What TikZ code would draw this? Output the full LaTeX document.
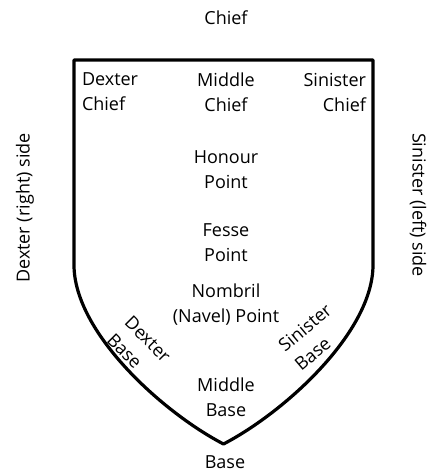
\documentclass[tikz,border=0pt]{standalone}
\usepackage{fontspec}
\setmainfont{Open Sans}
\begin{document}
\begin{tikzpicture}[x=1pt,y=1pt,
  lbl/.style={font=\fontsize{18}{25}\selectfont, inner sep=0pt, outer sep=0pt},
  shieldline/.style={line width=3.2pt, line join=round}]
\useasboundingbox (0,0) rectangle (435,-474);
% shield
\coordinate (tl) at (74,-60);
\coordinate (tr) at (373,-60);
\coordinate (ls) at (74,-265);
\coordinate (rs) at (373,-265);
\coordinate (tip) at (223.5,-444);
\draw[shieldline] (ls) -- (tl) -- (tr) -- (rs)
  .. controls (373,-332) and (285,-412) .. (tip)
  .. controls (162,-412) and (74,-332) .. (ls) -- cycle;
% labels
\node[lbl] (chief) at (226,-18) {Chief};
\node[lbl, anchor=west, align=left] (dexchief) at (82,-92) {Dexter\\Chief};
\node[lbl, align=center] (midchief) at (226,-92) {Middle\\Chief};
\node[lbl, anchor=east, align=right] (sinchief) at (366,-92) {Sinister\\Chief};
\node[lbl, align=center] (honour) at (226,-170) {Honour\\Point};
\node[lbl, align=center] (fesse) at (226,-243) {Fesse\\Point};
\node[lbl, align=center] (nombril) at (226,-305) {Nombril\\(Navel) Point};
\node[lbl, align=center] (midbase) at (226,-397) {Middle\\Base};
\node[lbl] (base) at (225,-462) {Base};
\node[lbl, align=left, rotate=-45] (dexbase) at (139,-348) {Dexter\\Base};
\node[lbl, align=left, rotate=40] (sinbase) at (313,-337) {Sinister\\Base};
\node[lbl, rotate=90] (dexside) at (25,-208) {Dexter (right) side};
\node[lbl, rotate=-90] (sinside) at (418,-205) {Sinister (left) side};
\end{tikzpicture}
\end{document}
